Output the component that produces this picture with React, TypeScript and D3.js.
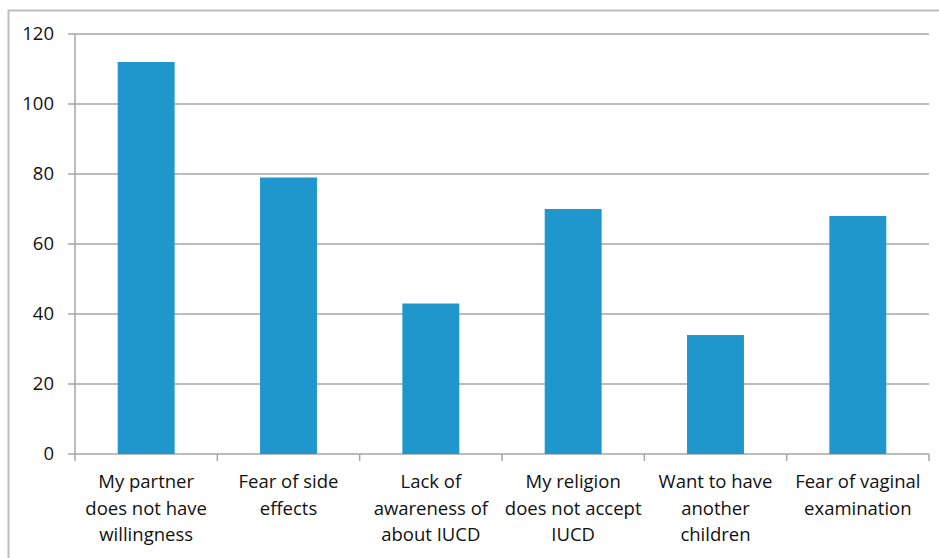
import React, { useRef, useEffect } from 'react';
import * as d3 from 'd3';

// カテゴリと値
const categories = [
  'My partner does not have willingness',
  'Fear of side effects',
  'Lack of awareness of about IUCD',
  'My religion does not accept IUCD',
  'Want to have another children',
  'Fear of vaginal examination',
];
const labelLines = [
  ['My partner', 'does not have', 'willingness'],
  ['Fear of side', 'effects'],
  ['Lack of', 'awareness of', 'about IUCD'],
  ['My religion', 'does not accept', 'IUCD'],
  ['Want to have', 'another', 'children'],
  ['Fear of vaginal', 'examination'],
];
const values = [112, 79, 43, 70, 34, 68];
const yTicks = [0, 20, 40, 60, 80, 100, 120];

const W = 939;
const H = 558;
const font = "'Open Sans', sans-serif";

const App: React.FC = () => {
  const svgRef = useRef<SVGSVGElement | null>(null);

  useEffect(() => {
    document.body.style.margin = '0';
    if (!svgRef.current) return;
    const root = d3.select(svgRef.current);
    root.selectAll('*').remove();

    const left = 75, right = 929, top = 34, bottom = 454;

    // 外枠
    root.append('path')
      .attr('d', `M8.5,${H} V10.5 H${W}`)
      .attr('fill', 'none')
      .attr('stroke', '#bdbdbd')
      .attr('stroke-width', 2);

    const x = d3.scaleBand<string>().domain(categories).range([left, right]).paddingInner(0.6).paddingOuter(0.3);
    const band = d3.scaleBand<string>().domain(categories).range([left, right]);
    const y = d3.scaleLinear().domain([0, 120]).range([bottom, top]);

    // グリッド
    root.append('g')
      .selectAll('line')
      .data(yTicks)
      .enter().append('line')
      .attr('x1', left - 7)
      .attr('x2', right)
      .attr('y1', d => y(d))
      .attr('y2', d => y(d))
      .attr('stroke', '#a6a6a6')
      .attr('stroke-width', 1.5);

    // y軸
    root.append('line')
      .attr('x1', left).attr('x2', left)
      .attr('y1', top).attr('y2', bottom)
      .attr('stroke', '#a6a6a6').attr('stroke-width', 1.5);

    root.append('g')
      .selectAll('text')
      .data(yTicks)
      .enter().append('text')
      .attr('x', 54)
      .attr('y', d => y(d))
      .attr('dy', '0.35em')
      .attr('text-anchor', 'end')
      .attr('font-family', font)
      .attr('font-size', 18.5)
      .attr('fill', '#111')
      .text(d => String(d));

    // x軸目盛り
    const tickXs = categories.map(c => band(c)!).concat([right]);
    root.append('g')
      .selectAll('line')
      .data(tickXs)
      .enter().append('line')
      .attr('x1', d => d).attr('x2', d => d)
      .attr('y1', bottom).attr('y2', bottom + 7)
      .attr('stroke', '#a6a6a6').attr('stroke-width', 1.5);

    // 棒
    root.append('g')
      .selectAll('rect')
      .data(values)
      .enter().append('rect')
      .attr('x', (_, i) => x(categories[i])!)
      .attr('y', d => y(d))
      .attr('width', x.bandwidth())
      .attr('height', d => bottom - y(d))
      .attr('fill', '#1f97cc');

    // ラベル
    const lbl = root.append('g');
    labelLines.forEach((lines, i) => {
      const cx = band(categories[i])! + band.bandwidth() / 2;
      lines.forEach((t, j) => {
        lbl.append('text')
          .attr('x', cx)
          .attr('y', 488 + j * 26.5)
          .attr('text-anchor', 'middle')
          .attr('font-family', font)
          .attr('font-size', 18.5)
          .attr('fill', '#111')
          .text(t);
      });
    });
  }, []);

  return <svg ref={svgRef} width={W} height={H} style={{ display: 'block', background: '#fff' }} />;
};

export default App;
